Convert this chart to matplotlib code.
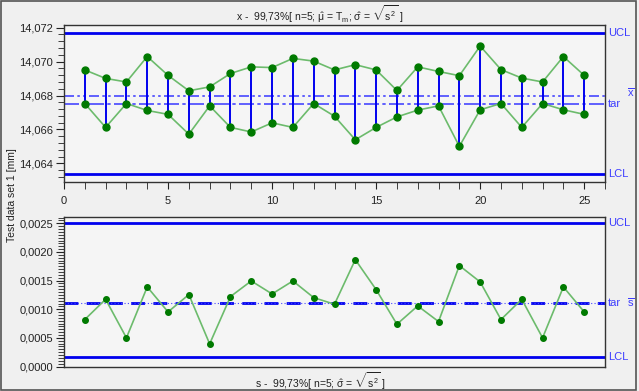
import matplotlib
matplotlib.use("Agg")
import matplotlib.pyplot as plt
from matplotlib.ticker import MultipleLocator, FuncFormatter
from matplotlib.patches import Rectangle

plt.rcParams['font.family'] = ['Liberation Sans', 'DejaVu Sans']
plt.rcParams['mathtext.fontset'] = 'custom'
plt.rcParams['mathtext.rm'] = 'Liberation Sans'
plt.rcParams['mathtext.it'] = 'Liberation Sans'
plt.rcParams['mathtext.bf'] = 'Liberation Sans'

# ---- data ----
subgroups = list(range(1, 26))
x_max = [14.06951, 14.06901, 14.06880, 14.07030, 14.06919, 14.06828, 14.06851, 14.06930,
         14.06969, 14.06965, 14.07019, 14.07003, 14.06951, 14.06982, 14.06951, 14.06830,
         14.06969, 14.06942, 14.06917, 14.07092, 14.06953, 14.06903, 14.06880, 14.07030,
         14.06919]
x_min = [14.06753, 14.06612, 14.06753, 14.06712, 14.06689, 14.06572, 14.06739, 14.06612,
         14.06585, 14.06639, 14.06612, 14.06753, 14.06678, 14.06539, 14.06612, 14.06674,
         14.06714, 14.06739, 14.06500, 14.06716, 14.06753, 14.06612, 14.06753, 14.06716,
         14.06689]
s_values = [0.00082, 0.001174, 0.00050, 0.00139, 0.000953, 0.001256, 0.000395, 0.001221,
            0.001494, 0.001267, 0.001494, 0.001203, 0.001087, 0.001866, 0.001343, 0.000738,
            0.001058, 0.000785, 0.001762, 0.001477, 0.00082, 0.001174, 0.00050, 0.00139,
            0.000953]
x_ucl, x_lcl, x_tar, x_bar = 14.07167, 14.06336, 14.06753, 14.06795
s_ucl, s_lcl, s_tar, s_bar = 0.002506, 0.000174, 0.00111, 0.00111
x_title = r"x -  99,73%[ n=5; $\hat{\mu}$ = T$_{m}$; $\hat{\sigma}$ = $\sqrt{s^2}$ ]"
s_title = r"s -  99,73%[ n=5; $\hat{\sigma}$ = $\sqrt{s^2}$ ]"
y_label = "Test data set 1 [mm]"

W, H = 639, 391
fig = plt.figure(figsize=(W / 100, H / 100), dpi=100)
fig.patch.set_facecolor('#f0f0f0')

def fx(px):
    return px / W

def fy(py):
    return 1 - py / H

ax1 = fig.add_axes([fx(64), fy(182), fx(605) - fx(64), fy(25) - fy(182)])
ax2 = fig.add_axes([fx(64), fy(366.5), fx(605) - fx(64), fy(216.7) - fy(366.5)])

BLUE = '#0000ee'
LBLUE = '#4646ff'
GREEN_LINE = '#6cbb6c'
GREEN_MK = '#007a00'
LABEL_BLUE = '#3c3cff'

for ax in (ax1, ax2):
    ax.set_facecolor('#f5f5f5')
    for sp in ax.spines.values():
        sp.set_color('#333333')
        sp.set_linewidth(1.0)
    ax.set_xlim(0, 26)
    ax.tick_params(axis='y', which='both', direction='out', left=True, right=False,
                   labelsize=8, colors='#222222', pad=2)
    ax.tick_params(axis='y', which='major', length=6)
    ax.tick_params(axis='y', which='minor', length=4)

# ---- top chart ----
ax1.set_ylim(14.0629, 14.07216)
ax1.axhline(x_ucl, color=BLUE, lw=2)
ax1.axhline(x_lcl, color=BLUE, lw=2)
ax1.axhline(x_bar, color=LBLUE, lw=1.2, ls=(0, (6, 2, 1.5, 2, 1.5, 2)))
ax1.axhline(x_tar, color=LBLUE, lw=1.2, ls=(0, (9, 2, 2, 2)))
ax1.vlines(subgroups, x_min, x_max, color=BLUE, lw=1.4, zorder=3)
ax1.plot(subgroups, x_max, color=GREEN_LINE, lw=1.2, zorder=4)
ax1.plot(subgroups, x_min, color=GREEN_LINE, lw=1.2, zorder=4)
ax1.plot(subgroups, x_max, 'o', color=GREEN_MK, ms=5, zorder=5)
ax1.plot(subgroups, x_min, 'o', color=GREEN_MK, ms=5, zorder=5)
ax1.yaxis.set_major_locator(MultipleLocator(0.002))
ax1.yaxis.set_minor_locator(MultipleLocator(0.0004))
ax1.yaxis.set_major_formatter(FuncFormatter(lambda v, p: f"{v:.3f}".replace('.', ',')))
ax1.xaxis.set_major_locator(MultipleLocator(5))
ax1.xaxis.set_minor_locator(MultipleLocator(1))
ax1.tick_params(axis='x', which='both', direction='out', bottom=True, top=False,
                labelsize=8, colors='#222222', length=5, pad=5)
ax1.xaxis.set_major_formatter(FuncFormatter(lambda v, p: f"{int(round(v))}"))

# ---- bottom chart ----
ax2.set_ylim(0, 0.002616)
ax2.axhline(s_ucl, color=BLUE, lw=2)
ax2.axhline(s_lcl, color=BLUE, lw=2)
ax2.axhline(s_tar, color=BLUE, lw=2, ls=(0, (5, 3)))
ax2.axhline(s_bar, color=LBLUE, lw=0.8, ls=(0, (1, 2)))
ax2.plot(subgroups, s_values, color=GREEN_LINE, lw=1.2, zorder=4)
ax2.plot(subgroups, s_values, 'o', color=GREEN_MK, ms=4, zorder=5)
ax2.yaxis.set_major_locator(MultipleLocator(0.0005))
ax2.yaxis.set_minor_locator(MultipleLocator(0.00005))
ax2.yaxis.set_major_formatter(FuncFormatter(lambda v, p: f"{v:.4f}".replace('.', ',')))
ax2.tick_params(axis='x', which='both', bottom=False, top=False, labelbottom=False)

# ---- right-side labels ----
tr1 = ax1.get_yaxis_transform()
ax1.text(1.006, x_ucl, "UCL", transform=tr1, color=LABEL_BLUE, fontsize=8, va='center', ha='left')
ax1.text(1.006, x_lcl, "LCL", transform=tr1, color=LABEL_BLUE, fontsize=8, va='center', ha='left')
ax1.text(1.006, x_tar, "tar", transform=tr1, color=LABEL_BLUE, fontsize=8, va='center', ha='left')
ax1.text(1.04, x_bar + 0.0002, r"$\overline{\mathrm{x}}$", transform=tr1, color=LABEL_BLUE,
         fontsize=8, va='center', ha='left')
tr2 = ax2.get_yaxis_transform()
ax2.text(1.006, s_ucl, "UCL", transform=tr2, color=LABEL_BLUE, fontsize=8, va='center', ha='left')
ax2.text(1.006, s_lcl, "LCL", transform=tr2, color=LABEL_BLUE, fontsize=8, va='center', ha='left')
ax2.text(1.006, s_tar, "tar", transform=tr2, color=LABEL_BLUE, fontsize=8, va='center', ha='left')
ax2.text(1.04, s_bar, r"$\overline{\mathrm{s}}$", transform=tr2, color=LABEL_BLUE,
         fontsize=8, va='center', ha='left')

# ---- titles & label ----
fig.text(fx(320), fy(14), x_title, ha='center', va='center', fontsize=7.5, color='#222222')
fig.text(fx(320), fy(381), s_title, ha='center', va='center', fontsize=7.5, color='#222222')
fig.text(fx(12), fy(195), y_label, rotation=90, ha='center', va='center', fontsize=7.5,
         color='#222222')

# ---- outer frame ----
fig.patches.append(Rectangle((fx(0.5), fy(389.5)), fx(635.5) - fx(0.5), fy(0.5) - fy(389.5),
                             transform=fig.transFigure, fill=False, edgecolor='#555555', lw=1.2))

fig.savefig("out.png", dpi=100, facecolor=fig.get_facecolor())
